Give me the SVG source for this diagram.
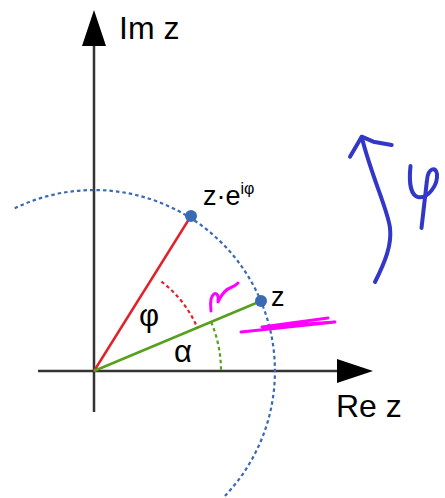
<svg xmlns="http://www.w3.org/2000/svg" width="445" height="498" viewBox="0 0 445 498">
<style>
.axis{stroke:#333;stroke-width:2.5;fill:none}
.lbl{font-family:"Liberation Sans",Arial,sans-serif;fill:#000}
.dotted{fill:none;stroke-width:2.2;stroke-dasharray:3.5 3}
.pen{fill:none;stroke-linecap:round;stroke-linejoin:round}
</style>
<defs>
<marker id="ah" viewBox="0 0 36 24" refX="0" refY="12" markerWidth="36" markerHeight="24" markerUnits="userSpaceOnUse" orient="auto">
<path d="M0,0 L36,12 L0,24 Z" fill="#000"/>
</marker>
</defs>
<rect width="445" height="498" fill="#fff"/>
<g id="connectors">
<line class="axis" x1="94" y1="412" x2="94" y2="46" marker-end="url(#ah)"/>
<line class="axis" x1="38" y1="371" x2="337" y2="371" marker-end="url(#ah)"/>
<path class="dotted" stroke="#3a6ab3" d="M14.7,208.3 A181,181 0 0 1 224.2,496.7"/>
<line x1="94" y1="371" x2="191" y2="216" stroke="#e0232b" stroke-width="2.5"/>
<line x1="94" y1="371" x2="261" y2="301" stroke="#55a11d" stroke-width="2.5"/>
<path class="dotted" stroke="#e0232b" d="M161.4,281.6 A112,112 0 0 1 197.3,327.8"/>
<path class="dotted" stroke="#55a11d" d="M211.2,322 A127,127 0 0 1 221,371"/>
</g>
<g id="im-axis-label"><text class="lbl" x="119" y="39" font-size="32">Im z</text></g>
<g id="re-axis-label"><text class="lbl" x="336" y="417" font-size="32">Re z</text></g>
<g id="point-z">
<circle cx="261" cy="301" r="6" fill="#3a6ab3"/>
<text class="lbl" x="271" y="306" font-size="27">z</text>
</g>
<g id="point-zeiphi">
<circle cx="191" cy="216" r="6" fill="#3a6ab3"/>
<text class="lbl" x="203" y="205" font-size="27">z·e<tspan font-size="16" dy="-11">iφ</tspan></text>
</g>
<g id="angle-phi"><text class="lbl" x="139" y="326" font-size="31">φ</text></g>
<g id="angle-alpha"><text class="lbl" x="174" y="362" font-size="31">α</text></g>
<g id="annotations">
<path class="pen" stroke="#ff00ff" stroke-width="3" d="M211,311 C210,303 211,296 214,294 C217,292 219,296 218,302 C221,295 226,289 232,287 C235,286 237,284 238,283"/>
<path class="pen" stroke="#ff00ff" stroke-width="3" d="M241,332 L335,322 L262,327 L328,318"/>
<path class="pen" stroke="#3237c8" stroke-width="4" d="M375,282 C385,262 392,245 390,228 C388,210 372,178 361.7,137"/>
<path class="pen" stroke="#3237c8" stroke-width="4" d="M350,156.7 L361.7,136.7 L373.3,141.7 L391.7,145"/>
<path class="pen" stroke="#3237c8" stroke-width="4" d="M410.5,166 C409,180 410,195 418,197 C428,199 438,185 437,174 C436,166 428,168 427,180 L421.5,228"/>
</g>
</svg>
